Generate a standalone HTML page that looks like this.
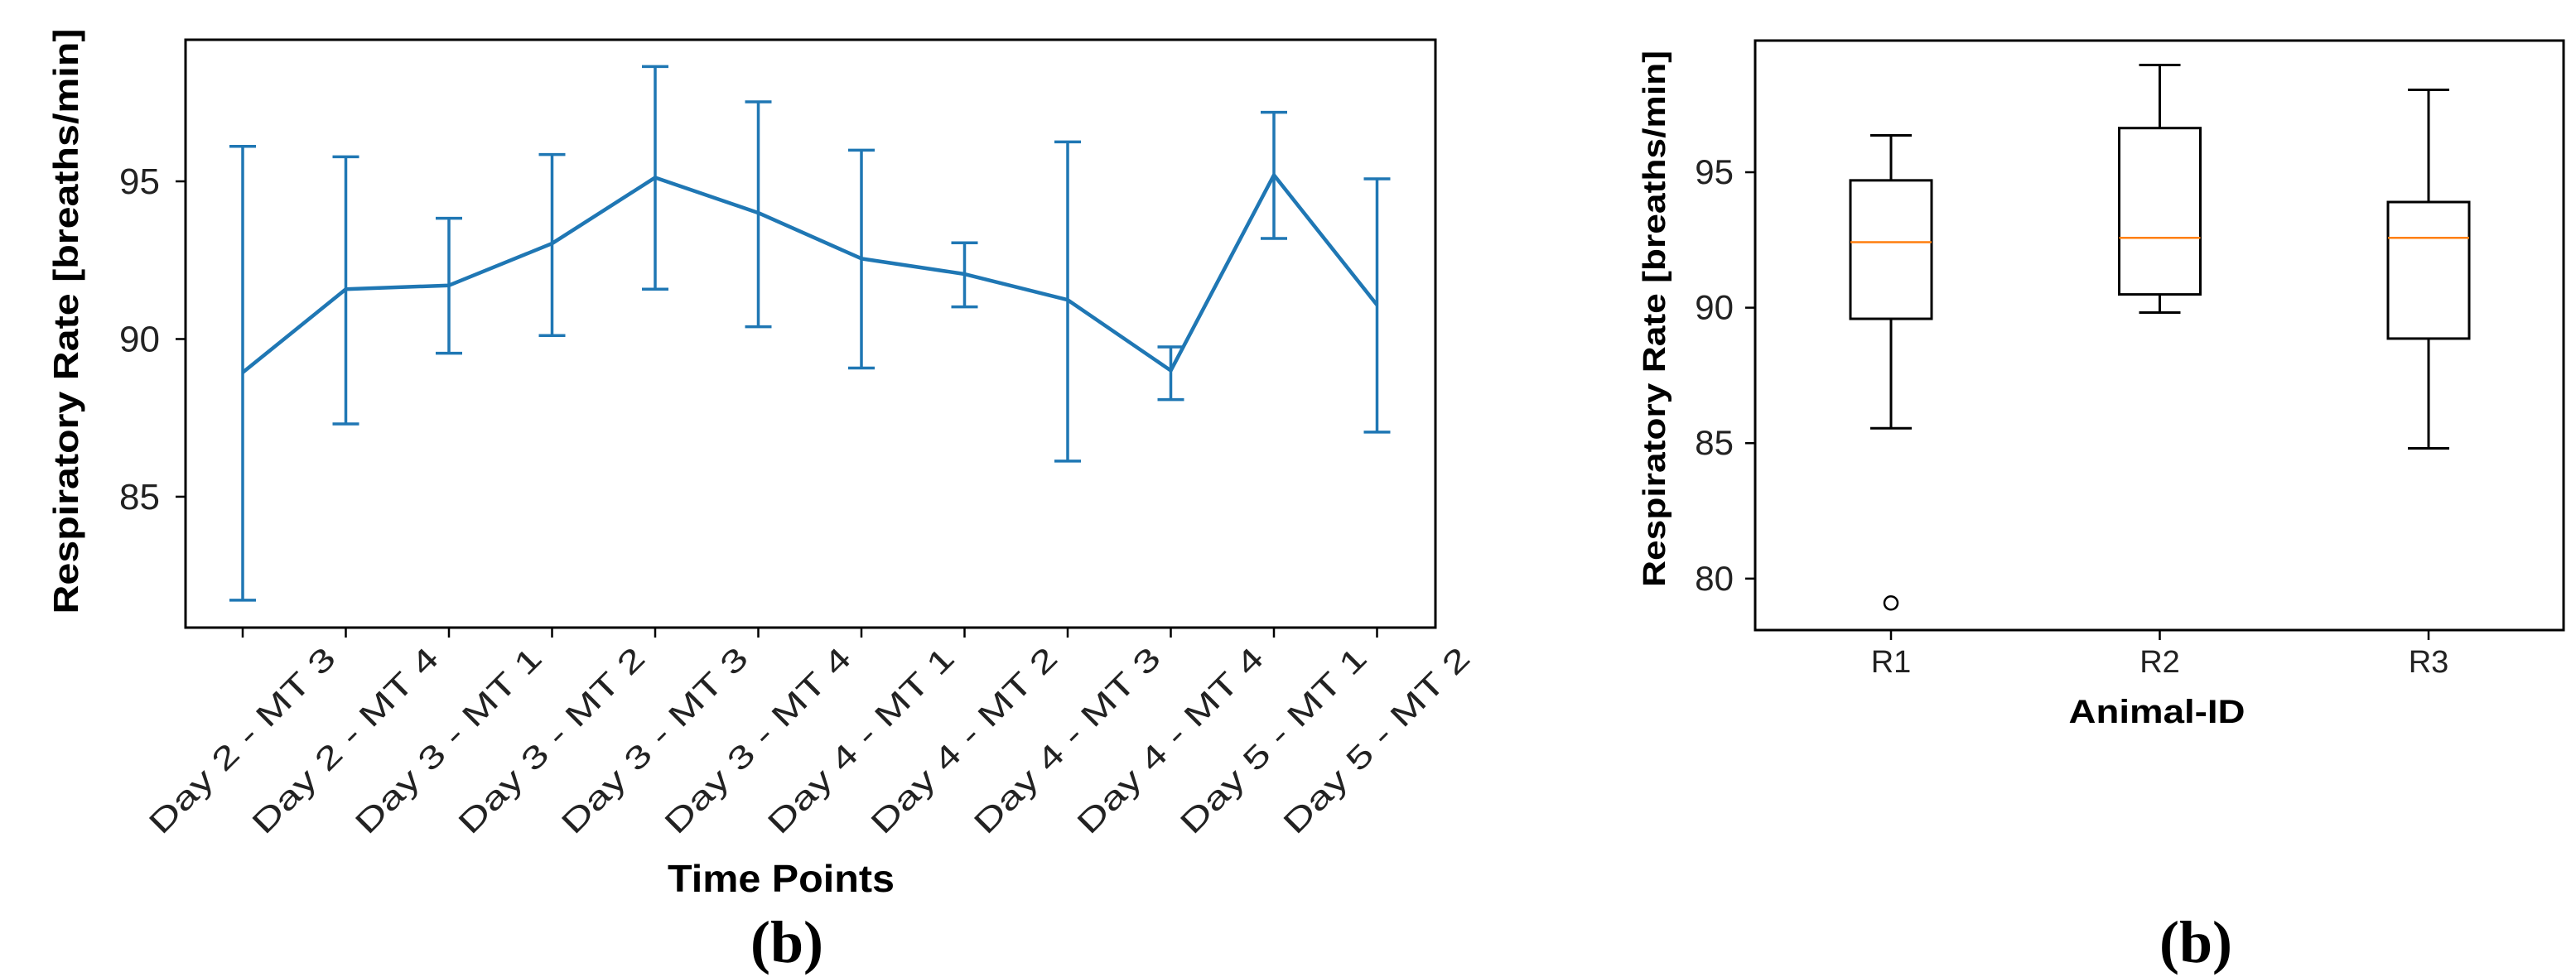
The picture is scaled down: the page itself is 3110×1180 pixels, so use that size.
<!DOCTYPE html>
<html><head><meta charset="utf-8"><style>
html,body{margin:0;padding:0;background:#fff;}
svg{display:block;}
text{font-family:"Liberation Sans",sans-serif;}
text.serif{font-family:"Liberation Serif",serif;}
</style></head><body>
<svg id="fig" width="3110" height="1180" viewBox="0 0 3110 1180" xmlns="http://www.w3.org/2000/svg">
<rect x="0" y="0" width="3110" height="1180" fill="#fff"/>
<g id="left"></g>
<g id="right"></g>
</svg>
<script>
// ---- left chart data ----
const timeLabels = ["Day 2 - MT 3","Day 2 - MT 4","Day 3 - MT 1","Day 3 - MT 2","Day 3 - MT 3","Day 3 - MT 4","Day 4 - MT 1","Day 4 - MT 2","Day 4 - MT 3","Day 4 - MT 4","Day 5 - MT 1","Day 5 - MT 2"];
const meanRates = [88.94,91.58,91.70,93.03,95.12,94.0,92.55,92.06,91.24,89.0,95.2,91.08];
const upperErr = [96.11,95.78,93.83,95.85,98.64,97.52,95.99,93.05,96.25,89.75,97.19,95.08];
const lowerErr = [81.72,87.31,89.55,90.11,91.58,90.39,89.08,91.02,86.13,88.08,93.19,87.05];
const leftYTicks = [85,90,95];
// ---- right chart data ----
const animalIds = ["R1","R2","R3"];
const whiskerHigh = [96.36,98.96,98.04];
const q3Values = [94.70,96.63,93.90];
const medians = [92.42,92.58,92.58];
const q1Values = [89.59,90.49,88.86];
const whiskerLow = [85.55,89.82,84.81];
const outlierIdx = [0];
const outlierVals = [79.10];
const rightYTicks = [80,85,90,95];

const NS="http://www.w3.org/2000/svg";
function mk(parent,tag,attrs,text){const e=document.createElementNS(NS,tag);for(const k in attrs)e.setAttribute(k,attrs[k]);if(text!==undefined)e.textContent=text;parent.appendChild(e);return e;}

// ---------- LEFT ----------
const L=document.getElementById('left');
const lx0=224,lx1=1733,ly0=48,ly1=758;
const lyMin=80.85,lyMax=99.49;
const ly=v=>ly1-(v-lyMin)/(lyMax-lyMin)*(ly1-ly0);
const lxs=i=>293+i*124.5;
const blue="#1f77b4";
for(let i=0;i<timeLabels.length;i++){
  const x=lxs(i);
  const eb=mk(L,'path',{d:`M${x},${ly(lowerErr[i])}V${ly(upperErr[i])}M${x-16},${ly(lowerErr[i])}H${x+16}M${x-16},${ly(upperErr[i])}H${x+16}`,stroke:blue,'stroke-width':3.5,fill:'none'});
  
  
}
let d="";
meanRates.forEach((v,i)=>{d+=(i?"L":"M")+lxs(i)+","+ly(v);});
const ln=mk(L,'path',{d:d,stroke:blue,'stroke-width':4.5,fill:'none','stroke-linejoin':'round'});


const lf=mk(L,'rect',{x:lx0,y:ly0,width:lx1-lx0,height:ly1-ly0,fill:'none',stroke:'#000','stroke-width':3});


leftYTicks.forEach(t=>{
  const y=ly(t);
  mk(L,'line',{x1:lx0-12,x2:lx0,y1:y,y2:y,stroke:'#000','stroke-width':2.5});
  const tl=mk(L,'text',{x:193,y:y+15,'text-anchor':'end','font-size':44,fill:'#222'},String(t));
  
  
});
timeLabels.forEach((s,i)=>{
  const x=lxs(i);
  mk(L,'line',{x1:x,x2:x,y1:ly1,y2:ly1+12,stroke:'#000','stroke-width':2.5});
  const tl=mk(L,'text',{x:x,y:907,'text-anchor':'middle','font-size':38,fill:'#222',transform:`rotate(-45 ${x} 895)`,textLength:300,lengthAdjust:'spacingAndGlyphs'},s);
  
  
});
</script>
<script>
(function(){
const L=document.getElementById('left');
function mk(parent,tag,attrs,text){const e=document.createElementNS("http://www.w3.org/2000/svg",tag);for(const k in attrs)e.setAttribute(k,attrs[k]);if(text!==undefined)e.textContent=text;parent.appendChild(e);return e;}
const yt=mk(L,'text',{x:0,y:0,'text-anchor':'middle','font-size':42,'font-weight':'bold',fill:'#000',transform:'translate(94 388) rotate(-90)',textLength:707,lengthAdjust:'spacingAndGlyphs'},'Respiratory Rate [breaths/min]');


const xt=mk(L,'text',{x:943,y:1077,'text-anchor':'middle','font-size':46,'font-weight':'bold',fill:'#000',textLength:274,lengthAdjust:'spacingAndGlyphs'},'Time Points');


const cap=mk(L,'text',{x:950,y:1162,'text-anchor':'middle','font-size':72,'font-weight':'bold',fill:'#000','class':'serif'},'(b)');



// ---------- RIGHT ----------
const R=document.getElementById('right');
const rx0=2119,rx1=3095,ry0=49,ry1=761;
const rMin=78.1,rMax=99.86;
const ry=v=>ry1-(v-rMin)/(rMax-rMin)*(ry1-ry0);
const rxs=i=>2283+i*324.5;
for(let i=0;i<animalIds.length;i++){
  const x=rxs(i);
  const g=mk(R,'g',{});
  
  
  mk(g,'path',{d:`M${x},${ry(q3Values[i])}V${ry(whiskerHigh[i])}M${x-25},${ry(whiskerHigh[i])}H${x+25}M${x},${ry(q1Values[i])}V${ry(whiskerLow[i])}M${x-25},${ry(whiskerLow[i])}H${x+25}`,stroke:'#000','stroke-width':3,fill:'none'});
  mk(g,'rect',{x:x-49,y:ry(q3Values[i]),width:98,height:ry(q1Values[i])-ry(q3Values[i]),fill:'none',stroke:'#000','stroke-width':3});
  mk(g,'line',{x1:x-49,x2:x+49,y1:ry(medians[i]),y2:ry(medians[i]),stroke:'#ff7f0e','stroke-width':2.5});
}
outlierIdx.forEach((k,j)=>{
  const c=mk(R,'circle',{cx:rxs(k),cy:ry(outlierVals[j]),r:8,fill:'none',stroke:'#000','stroke-width':2.5});
  
  
});
const rf=mk(R,'rect',{x:rx0,y:ry0,width:rx1-rx0,height:ry1-ry0,fill:'none',stroke:'#000','stroke-width':3});


rightYTicks.forEach(t=>{
  const y=ry(t);
  mk(R,'line',{x1:rx0-12,x2:rx0,y1:y,y2:y,stroke:'#000','stroke-width':2.5});
  const tl=mk(R,'text',{x:2093,y:y+14,'text-anchor':'end','font-size':42,fill:'#222'},String(t));
  
  
});
animalIds.forEach((s,i)=>{
  const x=rxs(i);
  mk(R,'line',{x1:x,x2:x,y1:ry1,y2:ry1+12,stroke:'#000','stroke-width':2.5});
  const tl=mk(R,'text',{x:x,y:812,'text-anchor':'middle','font-size':38,fill:'#222'},s);
  
  
});
const ryt=mk(R,'text',{x:0,y:0,'text-anchor':'middle','font-size':38,'font-weight':'bold',fill:'#000',transform:'translate(2010 385) rotate(-90)',textLength:648,lengthAdjust:'spacingAndGlyphs'},'Respiratory Rate [breaths/min]');


const rxt=mk(R,'text',{x:2604,y:873,'text-anchor':'middle','font-size':40,'font-weight':'bold',fill:'#000',textLength:213,lengthAdjust:'spacingAndGlyphs'},'Animal-ID');


const rcap=mk(R,'text',{x:2651,y:1162,'text-anchor':'middle','font-size':72,'font-weight':'bold',fill:'#000','class':'serif'},'(b)');


})();
</script>
</body></html>
